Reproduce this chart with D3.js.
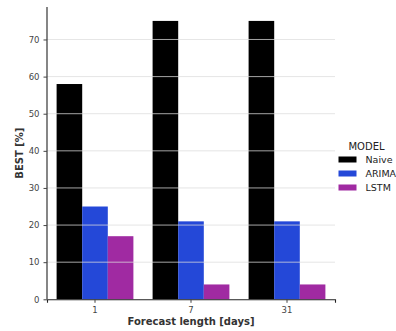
<!DOCTYPE html>
<html><head><meta charset="utf-8">
<script src="https://cdn.jsdelivr.net/npm/d3@7"></script>
<style>body{margin:0;background:#fff;font-family:"DejaVu Sans",sans-serif}</style>
</head><body>
<svg id="c" width="396" height="331"></svg>
<script>
const categories = ["1", "7", "31"];
const models = ["Naive", "ARIMA", "LSTM"];
const naive = [58, 75, 75];
const arima = [25, 21, 21];
const lstm = [17, 4, 4];
const yTicks = [0, 10, 20, 30, 40, 50, 60, 70];
const colors = ["#000000", "#2448d8", "#a02aa2"];

const series = [naive, arima, lstm];
const svg = d3.select("#c");
const L = 47, R = 335, T = 7, B = 299.3;

const x = d3.scaleBand().domain(categories).range([L, R]).paddingInner(0.2).paddingOuter(0.1);
const xs = d3.scaleBand().domain(models).range([0, x.bandwidth()]);
const y = d3.scaleLinear().domain([0, 78.75]).range([B, T]);

// bars
models.forEach((m, i) => {
  svg.append("g").selectAll("rect").data(series[i]).join("rect")
    .attr("x", (d, j) => x(categories[j]) + xs(m))
    .attr("width", xs.bandwidth())
    .attr("y", d => y(d))
    .attr("height", d => B - y(d))
    .attr("fill", colors[i]);
});

// gridlines on top
svg.append("g").selectAll("line").data(yTicks.filter(d => d > 0)).join("line")
  .attr("x1", L).attr("x2", R)
  .attr("y1", d => y(d)).attr("y2", d => y(d))
  .attr("stroke", "#dcdcdc").attr("stroke-opacity", 0.75).attr("stroke-width", 1);

// axes
const ya = svg.append("g").attr("transform", `translate(${L},0)`)
  .call(d3.axisLeft(y).tickValues(yTicks).tickSize(3.5).tickPadding(4));
const xa = svg.append("g").attr("transform", `translate(0,${B})`)
  .call(d3.axisBottom(x).tickSize(3.5).tickPadding(4));
[ya, xa].forEach(a => {
  a.select(".domain").attr("stroke", "#222").attr("stroke-width", 1.1);
  a.selectAll(".tick line").attr("stroke", "#444");
  a.selectAll(".tick text").attr("fill", "#444").attr("font-size", 8.5).attr("font-family", "DejaVu Sans");
});
ya.select(".domain").attr("d", `M0,${T}V${B}`);

// labels
svg.append("text").attr("x", (L + R) / 2).attr("y", 325).attr("text-anchor", "middle")
  .attr("font-size", 10).attr("font-weight", "bold").attr("fill", "#333")
  .text("Forecast length [days]");
svg.append("text").attr("transform", `translate(23,${(T + B) / 2}) rotate(-90)`)
  .attr("text-anchor", "middle").attr("font-size", 10).attr("font-weight", "bold").attr("fill", "#333")
  .text("BEST [%]");

// legend
const lg = svg.append("g");
lg.append("text").attr("x", 366.5).attr("y", 150).attr("text-anchor", "middle")
  .attr("font-size", 10).attr("fill", "#222").text("MODEL");
models.forEach((m, i) => {
  const yy = 159.5 + i * 14;
  lg.append("rect").attr("x", 338.5).attr("y", yy - 3).attr("width", 18).attr("height", 6).attr("fill", colors[i]);
  lg.append("text").attr("x", 365.5).attr("y", yy + 3.5).attr("font-size", 9.5).attr("fill", "#222").text(m);
});
</script>
</body></html>
